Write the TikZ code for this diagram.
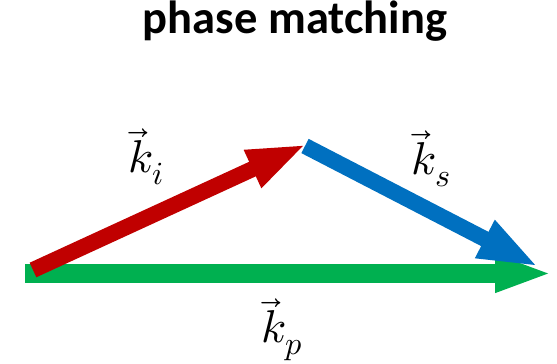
\documentclass[tikz,border=0pt]{standalone}
\usepackage{unicode-math}
\setsansfont{Carlito}
\setmathfont{Latin Modern Math}
\usetikzlibrary{arrows.meta}
\definecolor{kred}{HTML}{C00000}
\definecolor{kblue}{HTML}{0070C0}
\definecolor{kgreen}{HTML}{00B050}
\begin{document}
\begin{tikzpicture}[x=1pt,y=1pt,
  vecarrow/.style={line cap=butt},
  veclabel/.style={anchor=base west,inner sep=0pt,font=\fontsize{46}{50}\selectfont}]
\useasboundingbox (0,0) rectangle (557,364);
% image coords: y_tikz = 364 - y_img
\coordinate (gs) at (25,90.5);
\coordinate (ge) at (553,90.5);
\coordinate (rs) at (33,94);
\coordinate (re) at (307,220);
\coordinate (bs) at (305,218);
\coordinate (be) at (539,97);
\node[anchor=base,inner sep=0pt,font=\sffamily\bfseries\fontsize{46.5}{50}\selectfont] (title) at (295,330) {phase matching};
\draw[vecarrow,kgreen,line width=19pt,-{Triangle[length=58pt,width=34pt]}] (gs) -- (ge);
\draw[vecarrow,kred,line width=16pt,-{Triangle[length=60pt,width=37pt]}] (rs) -- (re);
\draw[vecarrow,kblue,line width=16pt,-{Triangle[length=61pt,width=38pt]}] (bs) -- (be);
\node[veclabel] (ki) at (128,191) {$\overrightarrow{k}_i$};
\node[veclabel] (ks) at (411,189) {$\overrightarrow{k}_s$};
\node[veclabel] (kp) at (261,21) {$\overrightarrow{k}_p$};
\end{tikzpicture}
\end{document}
